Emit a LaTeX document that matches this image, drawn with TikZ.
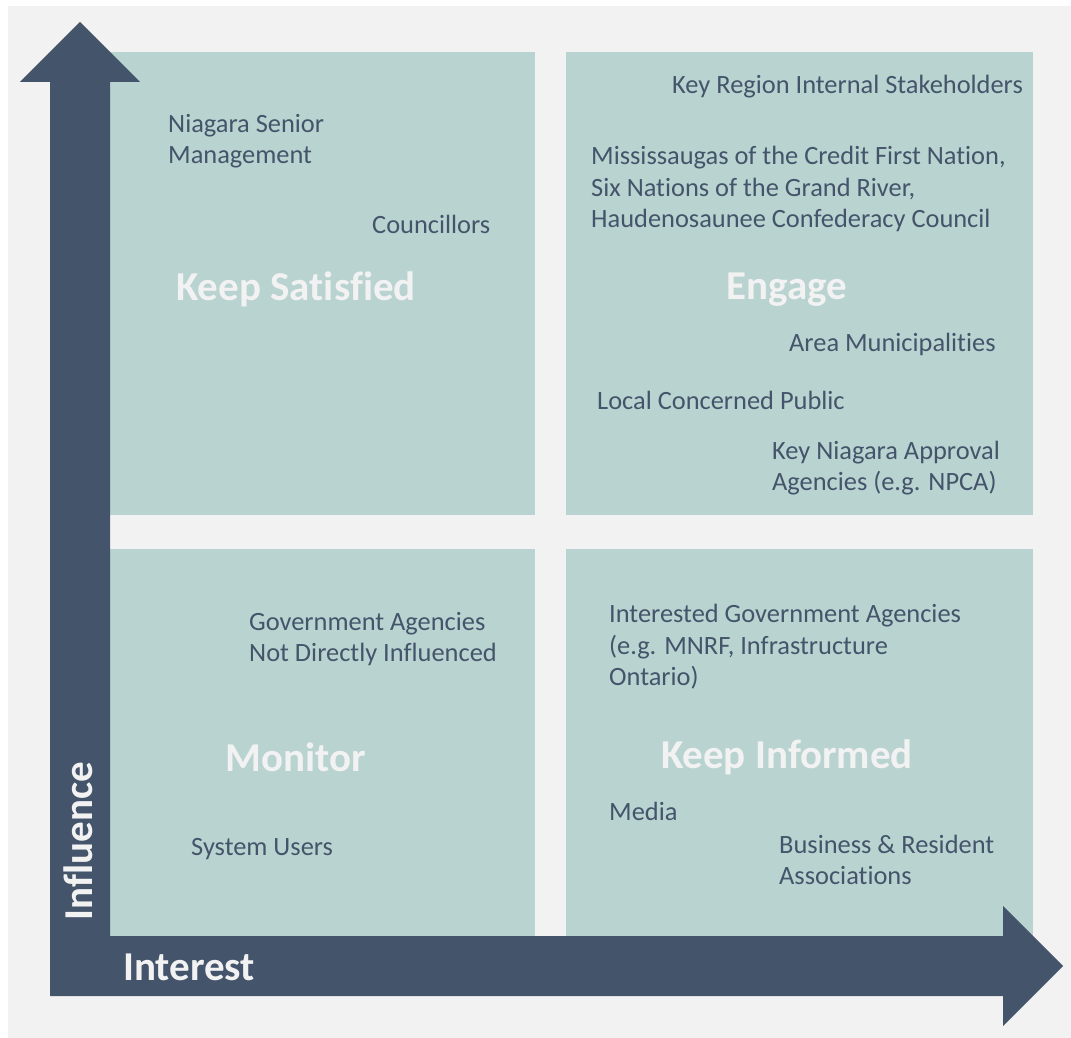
\documentclass[tikz,border=0pt]{standalone}
\usepackage{fontspec}
\setmainfont{Carlito}[Ligatures=NoCommon]
\usetikzlibrary{positioning}
\definecolor{slate}{HTML}{44546A}
\definecolor{sage}{HTML}{B9D3D0}
\definecolor{paper}{HTML}{F2F2F2}

\begin{document}
\begin{tikzpicture}[x=1pt,y=-1pt,
    quad/.style={fill=sage,inner sep=0pt,outer sep=0pt},
    item/.style={text=slate,font=\fontsize{26.4}{31.5}\selectfont,
        align=left,anchor=west,inner sep=0pt},
    tag/.style={text=paper,font=\fontsize{41}{49}\selectfont\bfseries,inner sep=0pt},
    axis/.style={text=paper,font=\fontsize{41}{49}\selectfont\bfseries,inner sep=0pt}]
    % page and background
    \useasboundingbox (0,0) rectangle (1071,1038);
    \fill[paper] (8,6) rectangle (1071,1038);
    % the four quadrants
    \node[quad,minimum width=425pt,minimum height=463pt,
        anchor=north west] (ks) at (110,52) {};
    \node[quad,minimum width=467pt,minimum height=463pt,
        right=31pt of ks] (en) {};
    \node[quad,minimum width=425pt,minimum height=387pt,
        below=34pt of ks] (mo) {};
    \node[quad,minimum width=467pt,minimum height=387pt,
        below=34pt of en] (ki) {};
    % axes as one L-shaped arrow
    \fill[slate] (50,996) -- (50,82) -- (20,82) -- (80,22) -- (140,82)
        -- (110,82) -- (110,936) -- (1003,936) -- (1003,906) -- (1063,966)
        -- (1003,1026) -- (1003,996) -- cycle;
    \node[axis,anchor=west] (interest) at (123,967) {Interest};
    \node[axis,rotate=90] (influence) at (78,841) {Influence};
    % quadrant names
    \node[tag] (tks) at (296,289) {Keep Satisfied};
    \node[tag] (ten) at (787,290) {Engage};
    \node[tag] (tmo) at (296,757) {Monitor};
    \node[tag] (tki) at (787,757) {Keep Informed};
    % stakeholders
    \node[item] (senior) at (168,141) {Niagara Senior\\Management};
    \node[item] (council) at (372,224) {Councillors};
    \node[item] (internal) at (672,87) {Key Region Internal Stakeholders};
    \node[item] (nations) at (591,189) {Mississaugas of the Credit First Nation,\\Six Nations of the Grand River,\\Haudenosaunee Confederacy Council};
    \node[item] (area) at (789,344) {Area Municipalities};
    \node[item] (public) at (597,400) {Local Concerned Public};
    \node[item] (npca) at (772,468) {Key Niagara Approval\\Agencies (e.g. NPCA)};
    \node[item] (govt) at (249,639) {Government Agencies\\Not Directly Influenced};
    \node[item] (users) at (191,849) {System Users};
    \node[item] (mnrf) at (609,647) {Interested Government Agencies\\(e.g. MNRF, Infrastructure\\Ontario)};
    \node[item] (media) at (609,811) {Media};
    \node[item] (business) at (779,860) {Business \& Resident\\Associations};
\end{tikzpicture}
\end{document}
